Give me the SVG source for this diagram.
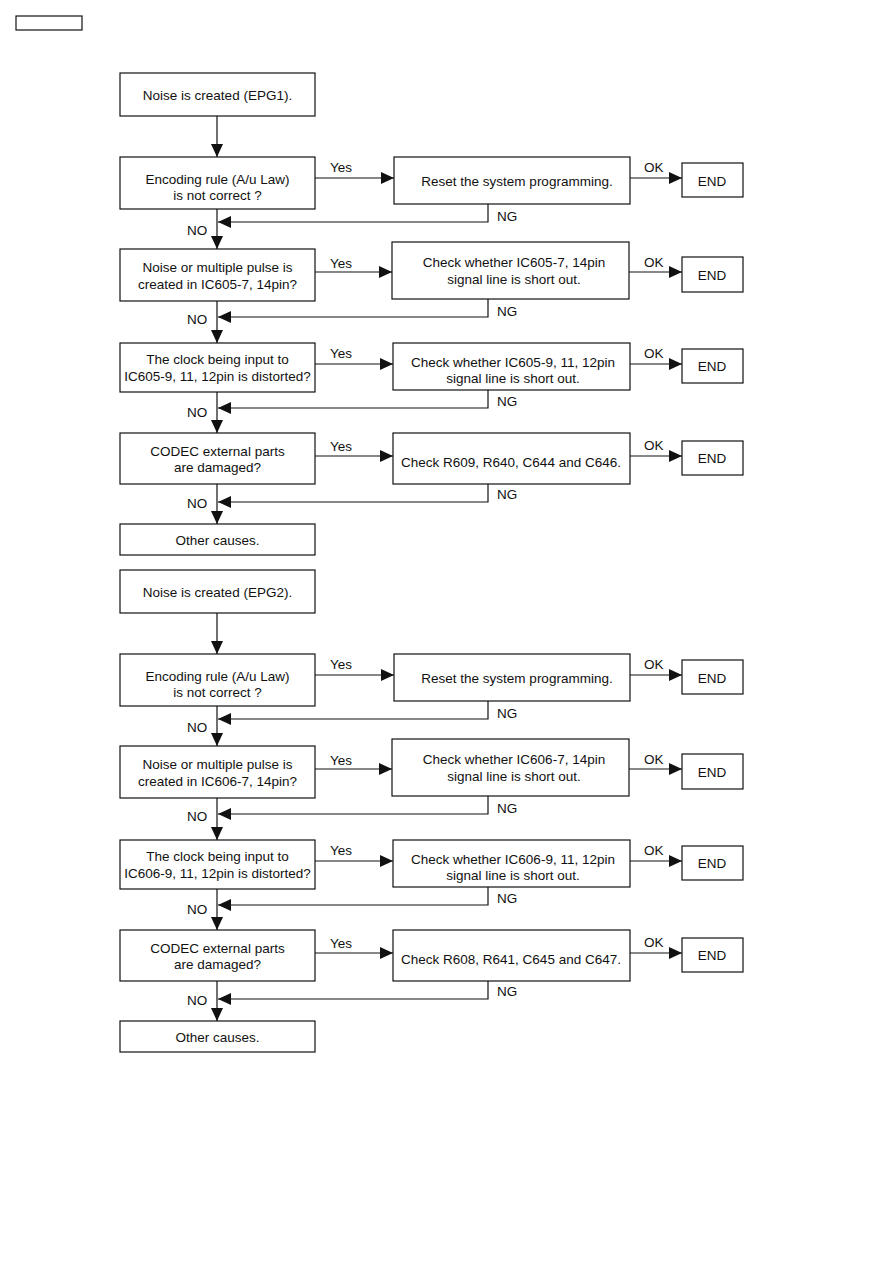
<svg xmlns="http://www.w3.org/2000/svg" width="893" height="1263" viewBox="0 0 893 1263">
<style>
.b{fill:#fff;stroke:#111;stroke-width:1.2}
.t{font-family:"Liberation Sans",Arial,sans-serif;font-size:13.5px;fill:#111;text-anchor:middle}
.l{font-family:"Liberation Sans",Arial,sans-serif;font-size:13.5px;fill:#111}
.c{fill:none;stroke:#111;stroke-width:1.2}
</style>
<defs>
<marker id="ah" markerUnits="userSpaceOnUse" markerWidth="13" markerHeight="12" refX="13" refY="6" orient="auto">
<path d="M0,0 L13,6 L0,12 z" fill="#111"/>
</marker>
</defs>
<rect x="16" y="16" width="66" height="14" fill="#fff" stroke="#111" stroke-width="1.2"/>

<g id="flow1">
<g id="connectors1">
<path class="c" d="M217,116 V157" marker-end="url(#ah)"/>
<path class="c" d="M314,178 H394" marker-end="url(#ah)"/>
<path class="c" d="M630,178 H682" marker-end="url(#ah)"/>
<path class="c" d="M488,204 V222 H218" marker-end="url(#ah)"/>
<path class="c" d="M217,209 V249" marker-end="url(#ah)"/>
<path class="c" d="M314,272 H392" marker-end="url(#ah)"/>
<path class="c" d="M629,272 H682" marker-end="url(#ah)"/>
<path class="c" d="M488,299 V317 H218" marker-end="url(#ah)"/>
<path class="c" d="M217,301 V343" marker-end="url(#ah)"/>
<path class="c" d="M314,364 H393" marker-end="url(#ah)"/>
<path class="c" d="M630,364 H682" marker-end="url(#ah)"/>
<path class="c" d="M488,390 V408 H218" marker-end="url(#ah)"/>
<path class="c" d="M217,392 V433" marker-end="url(#ah)"/>
<path class="c" d="M314,456 H393" marker-end="url(#ah)"/>
<path class="c" d="M630,456 H682" marker-end="url(#ah)"/>
<path class="c" d="M488,484 V502 H218" marker-end="url(#ah)"/>
<path class="c" d="M217,484 V524" marker-end="url(#ah)"/>
<text class="l" x="330" y="172">Yes</text>
<text class="l" x="644" y="172">OK</text>
<text class="l" x="497" y="221">NG</text>
<text class="l" x="187" y="235">NO</text>
<text class="l" x="330" y="268">Yes</text>
<text class="l" x="644" y="267">OK</text>
<text class="l" x="497" y="316">NG</text>
<text class="l" x="187" y="324">NO</text>
<text class="l" x="330" y="358">Yes</text>
<text class="l" x="644" y="358">OK</text>
<text class="l" x="497" y="406">NG</text>
<text class="l" x="187" y="417">NO</text>
<text class="l" x="330" y="451">Yes</text>
<text class="l" x="644" y="450">OK</text>
<text class="l" x="497" y="499">NG</text>
<text class="l" x="187" y="508">NO</text>
</g>
<g id="n1_start"><rect class="b" x="120" y="73" width="195" height="43"/><text class="t" x="217.5" y="100">Noise is created (EPG1).</text></g>
<g id="n1_q1"><rect class="b" x="120" y="157" width="195" height="52"/><text class="t" x="217.5" y="184">Encoding rule (A/u Law)</text><text class="t" x="217.5" y="200">is not correct ?</text></g>
<g id="n1_a1"><rect class="b" x="394" y="157" width="236" height="47"/><text class="t" x="517" y="186">Reset the system programming.</text></g>
<g id="n1_e1"><rect class="b" x="682" y="163" width="61" height="34"/><text class="t" x="712" y="186">END</text></g>
<g id="n1_q2"><rect class="b" x="120" y="249" width="195" height="52"/><text class="t" x="217.5" y="272">Noise or multiple pulse is</text><text class="t" x="217.5" y="289">created in IC605-7, 14pin?</text></g>
<g id="n1_a2"><rect class="b" x="392" y="242" width="237" height="57"/><text class="t" x="514" y="267">Check whether IC605-7, 14pin</text><text class="t" x="514" y="284">signal line is short out.</text></g>
<g id="n1_e2"><rect class="b" x="682" y="257" width="61" height="35"/><text class="t" x="712" y="280">END</text></g>
<g id="n1_q3"><rect class="b" x="120" y="343" width="195" height="49"/><text class="t" x="217.5" y="364">The clock being input to</text><text class="t" x="217.5" y="381">IC605-9, 11, 12pin is distorted?</text></g>
<g id="n1_a3"><rect class="b" x="393" y="343" width="237" height="47"/><text class="t" x="513" y="367">Check whether IC605-9, 11, 12pin</text><text class="t" x="513" y="383">signal line is short out.</text></g>
<g id="n1_e3"><rect class="b" x="682" y="349" width="61" height="34"/><text class="t" x="712" y="371">END</text></g>
<g id="n1_q4"><rect class="b" x="120" y="433" width="195" height="51"/><text class="t" x="217.5" y="456">CODEC external parts</text><text class="t" x="217.5" y="472">are damaged?</text></g>
<g id="n1_a4"><rect class="b" x="393" y="433" width="237" height="51"/><text class="t" x="511" y="467">Check R609, R640, C644 and C646.</text></g>
<g id="n1_e4"><rect class="b" x="682" y="441" width="61" height="34"/><text class="t" x="712" y="463">END</text></g>
<g id="n1_other"><rect class="b" x="120" y="524" width="195" height="31"/><text class="t" x="217.5" y="545">Other causes.</text></g>
</g>

<g id="flow2" transform="translate(0,497)">
<g id="connectors2">
<path class="c" d="M217,116 V157" marker-end="url(#ah)"/>
<path class="c" d="M314,178 H394" marker-end="url(#ah)"/>
<path class="c" d="M630,178 H682" marker-end="url(#ah)"/>
<path class="c" d="M488,204 V222 H218" marker-end="url(#ah)"/>
<path class="c" d="M217,209 V249" marker-end="url(#ah)"/>
<path class="c" d="M314,272 H392" marker-end="url(#ah)"/>
<path class="c" d="M629,272 H682" marker-end="url(#ah)"/>
<path class="c" d="M488,299 V317 H218" marker-end="url(#ah)"/>
<path class="c" d="M217,301 V343" marker-end="url(#ah)"/>
<path class="c" d="M314,364 H393" marker-end="url(#ah)"/>
<path class="c" d="M630,364 H682" marker-end="url(#ah)"/>
<path class="c" d="M488,390 V408 H218" marker-end="url(#ah)"/>
<path class="c" d="M217,392 V433" marker-end="url(#ah)"/>
<path class="c" d="M314,456 H393" marker-end="url(#ah)"/>
<path class="c" d="M630,456 H682" marker-end="url(#ah)"/>
<path class="c" d="M488,484 V502 H218" marker-end="url(#ah)"/>
<path class="c" d="M217,484 V524" marker-end="url(#ah)"/>
<text class="l" x="330" y="172">Yes</text>
<text class="l" x="644" y="172">OK</text>
<text class="l" x="497" y="221">NG</text>
<text class="l" x="187" y="235">NO</text>
<text class="l" x="330" y="268">Yes</text>
<text class="l" x="644" y="267">OK</text>
<text class="l" x="497" y="316">NG</text>
<text class="l" x="187" y="324">NO</text>
<text class="l" x="330" y="358">Yes</text>
<text class="l" x="644" y="358">OK</text>
<text class="l" x="497" y="406">NG</text>
<text class="l" x="187" y="417">NO</text>
<text class="l" x="330" y="451">Yes</text>
<text class="l" x="644" y="450">OK</text>
<text class="l" x="497" y="499">NG</text>
<text class="l" x="187" y="508">NO</text>
</g>
<g id="n2_start"><rect class="b" x="120" y="73" width="195" height="43"/><text class="t" x="217.5" y="100">Noise is created (EPG2).</text></g>
<g id="n2_q1"><rect class="b" x="120" y="157" width="195" height="52"/><text class="t" x="217.5" y="184">Encoding rule (A/u Law)</text><text class="t" x="217.5" y="200">is not correct ?</text></g>
<g id="n2_a1"><rect class="b" x="394" y="157" width="236" height="47"/><text class="t" x="517" y="186">Reset the system programming.</text></g>
<g id="n2_e1"><rect class="b" x="682" y="163" width="61" height="34"/><text class="t" x="712" y="186">END</text></g>
<g id="n2_q2"><rect class="b" x="120" y="249" width="195" height="52"/><text class="t" x="217.5" y="272">Noise or multiple pulse is</text><text class="t" x="217.5" y="289">created in IC606-7, 14pin?</text></g>
<g id="n2_a2"><rect class="b" x="392" y="242" width="237" height="57"/><text class="t" x="514" y="267">Check whether IC606-7, 14pin</text><text class="t" x="514" y="284">signal line is short out.</text></g>
<g id="n2_e2"><rect class="b" x="682" y="257" width="61" height="35"/><text class="t" x="712" y="280">END</text></g>
<g id="n2_q3"><rect class="b" x="120" y="343" width="195" height="49"/><text class="t" x="217.5" y="364">The clock being input to</text><text class="t" x="217.5" y="381">IC606-9, 11, 12pin is distorted?</text></g>
<g id="n2_a3"><rect class="b" x="393" y="343" width="237" height="47"/><text class="t" x="513" y="367">Check whether IC606-9, 11, 12pin</text><text class="t" x="513" y="383">signal line is short out.</text></g>
<g id="n2_e3"><rect class="b" x="682" y="349" width="61" height="34"/><text class="t" x="712" y="371">END</text></g>
<g id="n2_q4"><rect class="b" x="120" y="433" width="195" height="51"/><text class="t" x="217.5" y="456">CODEC external parts</text><text class="t" x="217.5" y="472">are damaged?</text></g>
<g id="n2_a4"><rect class="b" x="393" y="433" width="237" height="51"/><text class="t" x="511" y="467">Check R608, R641, C645 and C647.</text></g>
<g id="n2_e4"><rect class="b" x="682" y="441" width="61" height="34"/><text class="t" x="712" y="463">END</text></g>
<g id="n2_other"><rect class="b" x="120" y="524" width="195" height="31"/><text class="t" x="217.5" y="545">Other causes.</text></g>
</g>
</svg>
